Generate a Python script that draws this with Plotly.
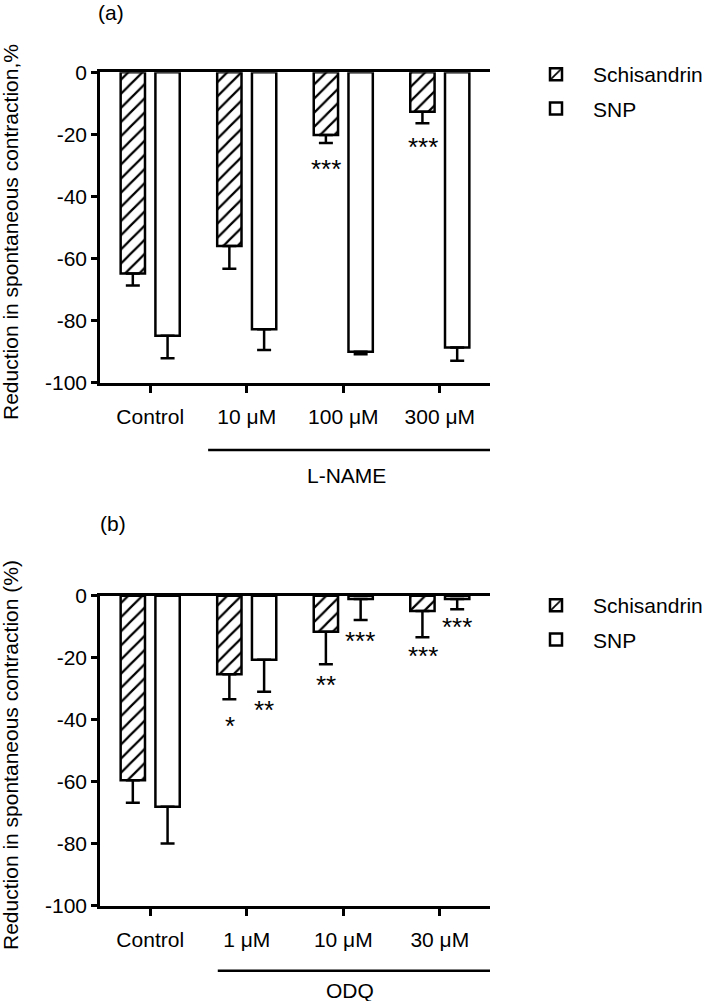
import plotly.graph_objects as go

# ---------------- data ----------------
cats_a = ["Control", "10 μM", "100 μM", "300 μM"]
schis_a = [-64.8, -56.0, -20.2, -12.7]
schis_a_sem = [3.9, 7.3, 2.6, 3.7]
snp_a = [-84.9, -82.8, -90.0, -88.7]
snp_a_sem = [7.2, 6.7, 0.8, 4.2]

cats_b = ["Control", "1 μM", "10 μM", "30 μM"]
schis_b = [-59.5, -25.3, -11.6, -4.9]
schis_b_sem = [7.3, 8.1, 10.5, 8.5]
snp_b = [-68.1, -20.7, -1.1, -1.1]
snp_b_sem = [11.8, 10.3, 6.7, 3.3]

y_tickvals = [0, -20, -40, -60, -80, -100]
y_ticktext = ["0", "-20", "-40", "-60", "-80", "-100"]

stars_a_cat = ["100 μM", "300 μM"]
stars_a_series = ["Schisandrin", "Schisandrin"]
stars_a_y = [-29.9, -22.9]
stars_a_text = ["***", "***"]

stars_b_cat = ["1 μM", "1 μM", "10 μM", "10 μM", "30 μM", "30 μM"]
stars_b_series = ["Schisandrin", "SNP", "Schisandrin", "SNP", "Schisandrin", "SNP"]
stars_b_y = [-41.0, -35.8, -27.7, -13.5, -18.6, -9.2]
stars_b_text = ["*", "**", "**", "***", "***", "***"]

# ---------------- style ----------------
FONT = "Arial, Liberation Sans, Helvetica, sans-serif"
LW = 2.5
W, H = 703, 1001
FS = 21


def px_x(p):
    return p / W


def px_y(p):
    return 1 - p / H


def err(sem):
    return dict(type="data", symmetric=False, array=[0] * len(sem), arrayminus=sem,
                thickness=LW, width=7, color="black")


fig = go.Figure()

for xa, ya, cats, s, ssem, n, nsem, leg in [
    ("x", "y", cats_a, schis_a, schis_a_sem, snp_a, snp_a_sem, "legend"),
    ("x2", "y2", cats_b, schis_b, schis_b_sem, snp_b, snp_b_sem, "legend2"),
]:
    fig.add_trace(go.Bar(
        x=cats, y=s, name="Schisandrin", xaxis=xa, yaxis=ya, legend=leg,
        marker=dict(color="white", line=dict(color="black", width=LW),
                    pattern=dict(shape="/", fgcolor="black", bgcolor="white", size=10, solidity=0.22)),
        error_y=err(ssem), legendgroup="s" + xa,
    ))
    fig.add_trace(go.Bar(
        x=cats, y=n, name="SNP", xaxis=xa, yaxis=ya, legend=leg,
        marker=dict(color="white", line=dict(color="black", width=LW)),
        error_y=err(nsem), legendgroup="n" + xa,
    ))

xdom = [px_x(100), px_x(490)]
common_x = dict(showline=True, linewidth=LW, linecolor="black", mirror=True,
                ticks="outside", ticklen=8, tickwidth=LW, tickcolor="black",
                tickfont=dict(family=FONT, size=FS, color="black"),
                range=[-0.52, 3.52], showgrid=False, zeroline=False,
                ticklabelstandoff=5, automargin=False)
common_y = dict(showline=True, linewidth=LW, linecolor="black",
                ticks="outside", ticklen=6, tickwidth=LW, tickcolor="black",
                tickfont=dict(family=FONT, size=FS, color="black"),
                range=[-100, 0], tickvals=y_tickvals, ticktext=y_ticktext,
                showgrid=False, zeroline=False, automargin=False)

leg_common = dict(xanchor="left", yanchor="top", font=dict(family=FONT, size=FS),
                  itemwidth=64, tracegroupgap=4, traceorder="grouped",
                  bgcolor="rgba(0,0,0,0)")

fig.update_layout(
    template="none",
    width=W, height=H, margin=dict(l=0, r=0, t=0, b=0, pad=0, autoexpand=False),
    paper_bgcolor="white", plot_bgcolor="white",
    font=dict(family=FONT, color="black", size=FS),
    barmode="group", bargap=0.28, bargroupgap=0.3,
    xaxis=dict(domain=xdom, anchor="y", **common_x),
    yaxis=dict(domain=[px_y(382.7), px_y(72.3)], anchor="x", **common_y),
    xaxis2=dict(domain=xdom, anchor="y2", **common_x),
    yaxis2=dict(domain=[px_y(905.7), px_y(595.7)], anchor="x2", **common_y),
    legend=dict(x=px_x(519), y=px_y(54), **leg_common),
    legend2=dict(x=px_x(519), y=px_y(585), **leg_common),
    showlegend=True,
)

shift = {"Schisandrin": -17, "SNP": 17}
ann = []
for c, sname, yv, t in zip(stars_a_cat, stars_a_series, stars_a_y, stars_a_text):
    ann.append(dict(x=c, y=yv, xref="x", yref="y", text=t, showarrow=False,
                    xanchor="center", yanchor="middle",
                    xshift=shift[sname], yshift=-4, font=dict(size=26, family=FONT)))
for c, sname, yv, t in zip(stars_b_cat, stars_b_series, stars_b_y, stars_b_text):
    ann.append(dict(x=c, y=yv, xref="x2", yref="y2", text=t, showarrow=False,
                    xanchor="center", yanchor="middle",
                    xshift=shift[sname], yshift=-3, font=dict(size=26, family=FONT)))


def label(x, y, text, angle=0):
    return dict(x=px_x(x), y=px_y(y), xref="paper", yref="paper", text=text,
                showarrow=False, xanchor="center", yanchor="middle", textangle=angle,
                font=dict(size=FS, family=FONT))


# axis titles and panel labels
ann.append(label(10, 232, "Reduction in spontaneous contraction,%", -90))
ann.append(label(10, 755, "Reduction in spontaneous contraction (%)", -90))
ann.append(label(111, 12.5, "(a)"))
ann.append(label(113, 523, "(b)"))
ann.append(label(346.7, 475, "L-NAME"))
ann.append(label(350, 990, "ODQ"))
fig.update_layout(annotations=ann)

fig.add_shape(type="line", xref="x", yref="paper", x0=0.6, x1=3.52,
              y0=px_y(450), y1=px_y(450), line=dict(color="black", width=LW))
fig.add_shape(type="line", xref="x2", yref="paper", x0=0.7, x1=3.55,
              y0=px_y(970.7), y1=px_y(970.7), line=dict(color="black", width=LW))

fig.write_html("out.html", config={"displayModeBar": False},
               post_script="document.body.style.margin='0';document.body.style.padding='0';")
